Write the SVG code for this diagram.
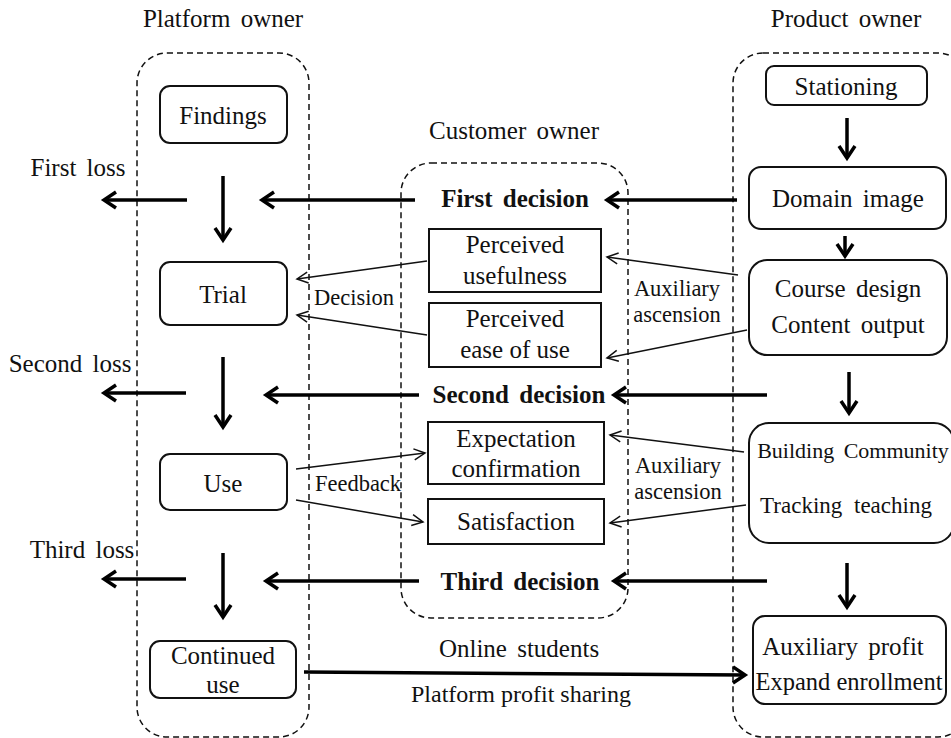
<svg xmlns="http://www.w3.org/2000/svg" width="951" height="738" viewBox="0 0 951 738">
<style>
text{font-size:25px;fill:#111;text-anchor:middle}
.sm{font-size:22.5px}
.b{font-weight:bold}
.ws{word-spacing:4px}
.cont{fill:none;stroke:#111;stroke-width:1.5;stroke-dasharray:6 4}
.box{fill:#fff;stroke:#111;stroke-width:2}
.thick{fill:none;stroke:#000;stroke-width:3.5}
.thin{fill:none;stroke:#111;stroke-width:1.5}
</style>
<defs>
<marker id="ah" markerUnits="userSpaceOnUse" markerWidth="20" markerHeight="20" refX="14" refY="10" orient="auto" overflow="visible">
<path d="M2,2 L14,10 L2,18" fill="none" stroke="#000" stroke-width="3.5"/>
</marker>
<marker id="ao" markerUnits="userSpaceOnUse" markerWidth="16" markerHeight="16" refX="12" refY="8" orient="auto" overflow="visible">
<path d="M1,2.5 L12,8 L1,13.5" fill="none" stroke="#111" stroke-width="1.5"/>
</marker>
</defs>
<g font-family="Liberation Serif, Times New Roman, serif">
<g id="containers">
<rect class="cont" x="137" y="53" width="172" height="684" rx="30"/>
<rect class="cont" x="401" y="163" width="227" height="455" rx="30"/>
<rect class="cont" x="733" y="53" width="235" height="684" rx="30"/>
</g>

<g id="titles">
<text x="223" y="27" class="ws">Platform owner</text>
<text x="514" y="139" class="ws">Customer owner</text>
<text x="846" y="27" class="ws">Product owner</text>
</g>

<g id="findings"><rect class="box" x="160" y="86" width="127" height="57" rx="10"/><text x="223" y="124">Findings</text></g>
<g id="trial"><rect class="box" x="160" y="262" width="127" height="63" rx="10"/><text x="223" y="303">Trial</text></g>
<g id="use"><rect class="box" x="160" y="454" width="127" height="56" rx="10"/><text x="223" y="492">Use</text></g>
<g id="continued"><rect class="box" x="150" y="641" width="146" height="57" rx="10"/><text x="223" y="664">Continued</text><text x="223" y="693">use</text></g>

<g id="perceived-usefulness"><rect class="box" x="429" y="229" width="172" height="63"/><text x="515" y="253">Perceived</text><text x="515" y="284">usefulness</text></g>
<g id="perceived-ease"><rect class="box" x="429" y="303" width="172" height="64"/><text x="515" y="327">Perceived</text><text x="515" y="358">ease of use</text></g>
<g id="expectation"><rect class="box" x="428" y="422" width="176" height="62"/><text x="516" y="447">Expectation</text><text x="516" y="477">confirmation</text></g>
<g id="satisfaction"><rect class="box" x="428" y="499" width="176" height="45"/><text x="516" y="530">Satisfaction</text></g>

<g id="decisions">
<text x="515" y="207" class="b ws">First decision</text>
<text x="519" y="403" class="b ws">Second decision</text>
<text x="520" y="590" class="b ws">Third decision</text>
</g>

<g id="stationing"><rect class="box" x="766" y="66" width="161" height="39" rx="8"/><text x="846" y="95">Stationing</text></g>
<g id="domain"><rect class="box" x="749" y="167" width="197" height="62" rx="12"/><text x="848" y="207" class="ws">Domain image</text></g>
<g id="course"><rect class="box" x="749" y="260" width="198" height="95" rx="18"/><text x="848" y="297" class="ws">Course design</text><text x="848" y="333" class="ws">Content output</text></g>
<g id="community"><rect class="box" x="749" y="423" width="205" height="120" rx="20"/><text x="853" y="458" style="font-size:22px;word-spacing:4px">Building Community</text><text x="846" y="513" style="font-size:23px;word-spacing:6px">Tracking teaching</text></g>
<g id="profit"><rect class="box" x="753" y="616" width="193" height="88" rx="12"/><text x="843" y="655" class="ws">Auxiliary profit</text><text x="849" y="690" style="font-size:24.5px">Expand enrollment</text></g>

<g id="labels">
<text x="78" y="176" class="ws">First loss</text>
<text x="70" y="372" class="ws">Second loss</text>
<text x="82" y="558" class="ws">Third loss</text>
<text x="354" y="305" class="sm">Decision</text>
<text x="358" y="491" class="sm">Feedback</text>
<text x="677" y="296" class="sm">Auxiliary</text>
<text x="677" y="322" class="sm">ascension</text>
<text x="678" y="473" class="sm">Auxiliary</text>
<text x="678" y="499" class="sm">ascension</text>
<text x="519" y="657" class="ws">Online students</text>
<text x="521" y="702" style="font-size:24px">Platform profit sharing</text>
</g>

<g id="connectors">
<line class="thick" x1="223" y1="176" x2="223" y2="240" marker-end="url(#ah)"/>
<line class="thick" x1="223" y1="357" x2="223" y2="427" marker-end="url(#ah)"/>
<line class="thick" x1="223" y1="553" x2="223" y2="617" marker-end="url(#ah)"/>
<line class="thick" x1="187" y1="200" x2="104" y2="200" marker-end="url(#ah)"/>
<line class="thick" x1="186" y1="393" x2="104" y2="393" marker-end="url(#ah)"/>
<line class="thick" x1="186" y1="579" x2="104" y2="579" marker-end="url(#ah)"/>
<line class="thick" x1="415" y1="200" x2="262" y2="200" marker-end="url(#ah)"/>
<line class="thick" x1="419" y1="395" x2="266" y2="395" marker-end="url(#ah)"/>
<line class="thick" x1="419" y1="581" x2="266" y2="581" marker-end="url(#ah)"/>
<line class="thick" x1="737" y1="200" x2="607" y2="200" marker-end="url(#ah)"/>
<line class="thick" x1="767" y1="395" x2="614" y2="395" marker-end="url(#ah)"/>
<line class="thick" x1="767" y1="581" x2="614" y2="581" marker-end="url(#ah)"/>
<line class="thick" x1="847" y1="118" x2="847" y2="158" marker-end="url(#ah)"/>
<line class="thick" x1="845" y1="236" x2="845" y2="256" marker-end="url(#ah)"/>
<line class="thick" x1="849" y1="372" x2="849" y2="413" marker-end="url(#ah)"/>
<line class="thick" x1="847" y1="563" x2="847" y2="607" marker-end="url(#ah)"/>
<line class="thick" x1="304" y1="672" x2="745" y2="675" marker-end="url(#ah)"/>
<line class="thin" x1="427" y1="261" x2="297" y2="279" marker-end="url(#ao)"/>
<line class="thin" x1="427" y1="335" x2="297" y2="315" marker-end="url(#ao)"/>
<line class="thin" x1="296" y1="469" x2="425" y2="453" marker-end="url(#ao)"/>
<line class="thin" x1="296" y1="500" x2="423" y2="522" marker-end="url(#ao)"/>
<line class="thin" x1="738" y1="275" x2="607" y2="257" marker-end="url(#ao)"/>
<line class="thin" x1="747" y1="330" x2="607" y2="358" marker-end="url(#ao)"/>
<line class="thin" x1="744" y1="452" x2="610" y2="435" marker-end="url(#ao)"/>
<line class="thin" x1="746" y1="505" x2="610" y2="523" marker-end="url(#ao)"/>
</g>
</g>
</svg>
